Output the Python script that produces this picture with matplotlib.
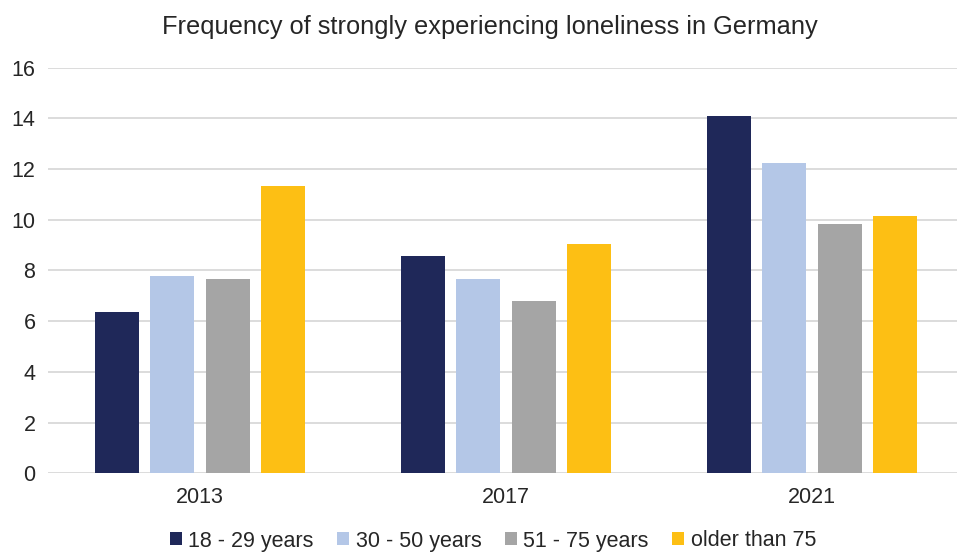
import matplotlib
matplotlib.use("Agg")
import matplotlib.pyplot as plt
import numpy as np

plt.rcParams['font.family'] = ['Liberation Sans', 'DejaVu Sans']

years = ["2013", "2017", "2021"]
series_names = ["18 - 29 years", "30 - 50 years", "51 - 75 years", "older than 75"]
v_18_29 = [6.37, 8.57, 14.1]
v_30_50 = [7.78, 7.67, 12.22]
v_51_75 = [7.67, 6.81, 9.82]
v_75plus = [11.34, 9.04, 10.15]
yticks = [0, 2, 4, 6, 8, 10, 12, 14, 16]

colors = ["#1F2859", "#B4C7E7", "#A5A5A5", "#FDBF14"]
values = [v_18_29, v_30_50, v_51_75, v_75plus]

fig = plt.figure(figsize=(9.57, 5.53), dpi=100)
ax = fig.add_axes([48/957, 1-473.3/553, 1-48/957, (473.3-67.5)/553])

x = np.arange(len(years))
step = 0.181
width = 0.144
for i, (vals, c, name) in enumerate(zip(values, colors, series_names)):
    ax.bar(x + (i-1.5)*step, vals, width=width, color=c, label=name, zorder=3)

ax.set_xlim(-0.497, 2.474)
ax.set_ylim(0, 16)
ax.set_yticks(yticks)
ax.set_xticks(x)
ax.set_xticklabels(years)
ax.yaxis.grid(True, color="#D9D9D9", linewidth=1.3, zorder=0)
ax.set_axisbelow(True)
for s in ax.spines.values():
    s.set_visible(False)
ax.tick_params(axis='both', length=0, labelsize=15.5, colors="#262626")
ax.tick_params(axis='y', pad=9)
ax.tick_params(axis='x', pad=10)

fig.text(490/957, 1-27/553, "Frequency of strongly experiencing loneliness in Germany",
         ha='center', va='center', fontsize=18.3, color="#262626")

fig.legend(loc='center', bbox_to_anchor=(493/957, 1-541/553), ncol=4, frameon=False,
           fontsize=15.5, handlelength=0.55, handleheight=0.55, handletextpad=0.3,
           columnspacing=1.1, labelcolor="#262626")

fig.savefig("out.png", dpi=100, facecolor="white")
